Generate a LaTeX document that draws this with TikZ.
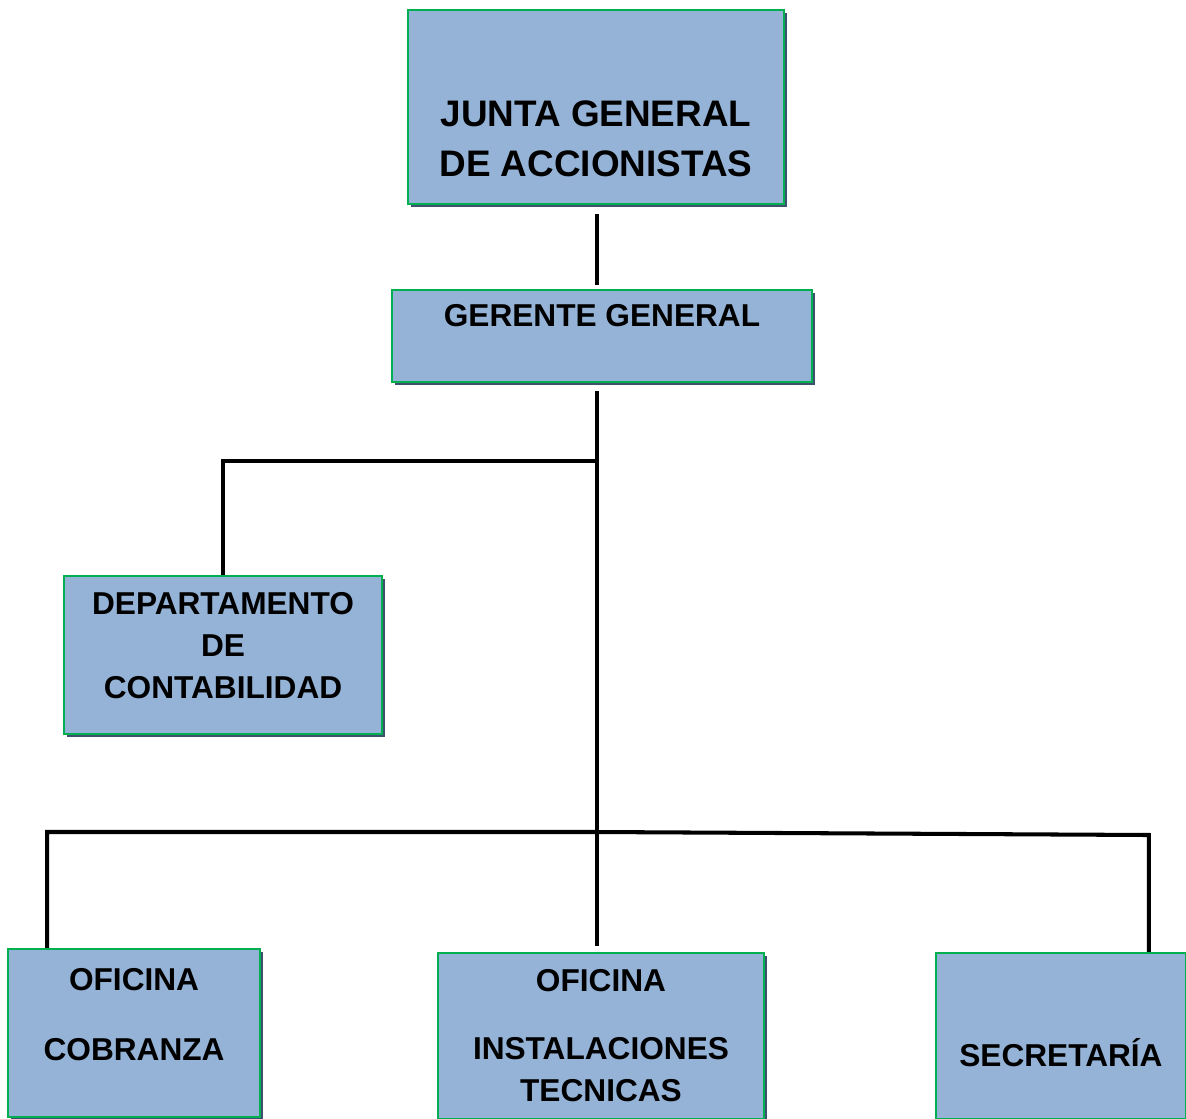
\documentclass[tikz,border=0pt]{standalone}
\usepackage{fontspec}
\setmainfont{Liberation Sans}
\usepackage{tikz}
\usetikzlibrary{positioning,calc,shadows}
\definecolor{BoxBlue}{HTML}{95B3D7}
\definecolor{BoxGreen}{HTML}{00B050}
\definecolor{ShadeBlue}{HTML}{3E5170}

\begin{document}
\begin{tikzpicture}[node distance=1cm]
\tikzstyle{blk}=[draw=BoxGreen,line width=1.1pt,fill=BoxBlue,align=center,inner sep=0pt,
  drop shadow={shadow xshift=0.06cm,shadow yshift=-0.06cm,fill=ShadeBlue,opacity=1},
  font=\bfseries\fontsize{18}{24}\selectfont]
\tikzstyle{conn}=[line width=2.3pt,black]
\useasboundingbox (0,0) rectangle (23.72,-22.36);
\node[blk,minimum width=7.52cm,minimum height=3.88cm,font=\bfseries\fontsize{21}{28.4}\selectfont] (junta) at (11.92,-2.14) {\rule{0pt}{1.8cm}JUNTA GENERAL\\DE ACCIONISTAS};
\node[blk,minimum width=8.4cm,minimum height=1.84cm,below=1.68cm of junta,xshift=0.12cm] (gerente) {GERENTE GENERAL\rule[-0.82cm]{0pt}{0.82cm}};
\node[blk,minimum width=6.36cm,minimum height=3.16cm] (depto) at (4.46,-13.10) {DEPARTAMENTO\\DE\\CONTABILIDAD\rule[-0.37cm]{0pt}{0.37cm}};
\node[blk,minimum width=6.52cm,minimum height=3.32cm,below=11.38cm of gerente,xshift=-0.02cm] (instal) {OFICINA\\[0.51cm]INSTALACIONES\\TECNICAS};
\node[blk,minimum width=5.04cm,minimum height=3.36cm,left=3.52cm of instal,yshift=0.06cm] (cobranza) {OFICINA\\[0.55cm]COBRANZA\rule[-0.74cm]{0pt}{0.74cm}};
\node[blk,minimum width=5.0cm,minimum height=3.32cm,right=3.40cm of instal] (secret) {\rule{0pt}{1.24cm}SECRETARÍA};
\coordinate (hub1) at (11.94,-9.22);
\coordinate (hub2) at (11.94,-16.64);
\coordinate (cl) at ($(cobranza.north west)+(0.8,0)$);
\coordinate (sr) at ($(secret.north east)+(-0.76,0)$);
\draw[conn,shorten <=0.18cm,shorten >=0.08cm] (junta.south -| hub1) -- (gerente.north -| hub1);
\draw[conn,shorten <=0.16cm,shorten >=0.12cm] (gerente.south -| hub1) -- (instal.north -| hub1);
\draw[conn] (hub1) -| (depto.north);
\draw[conn] (cl) -- (cl |- hub2) -- (hub2) -- ($(sr |- hub2)+(0,-0.06)$) -- (sr);
\end{tikzpicture}
\end{document}
